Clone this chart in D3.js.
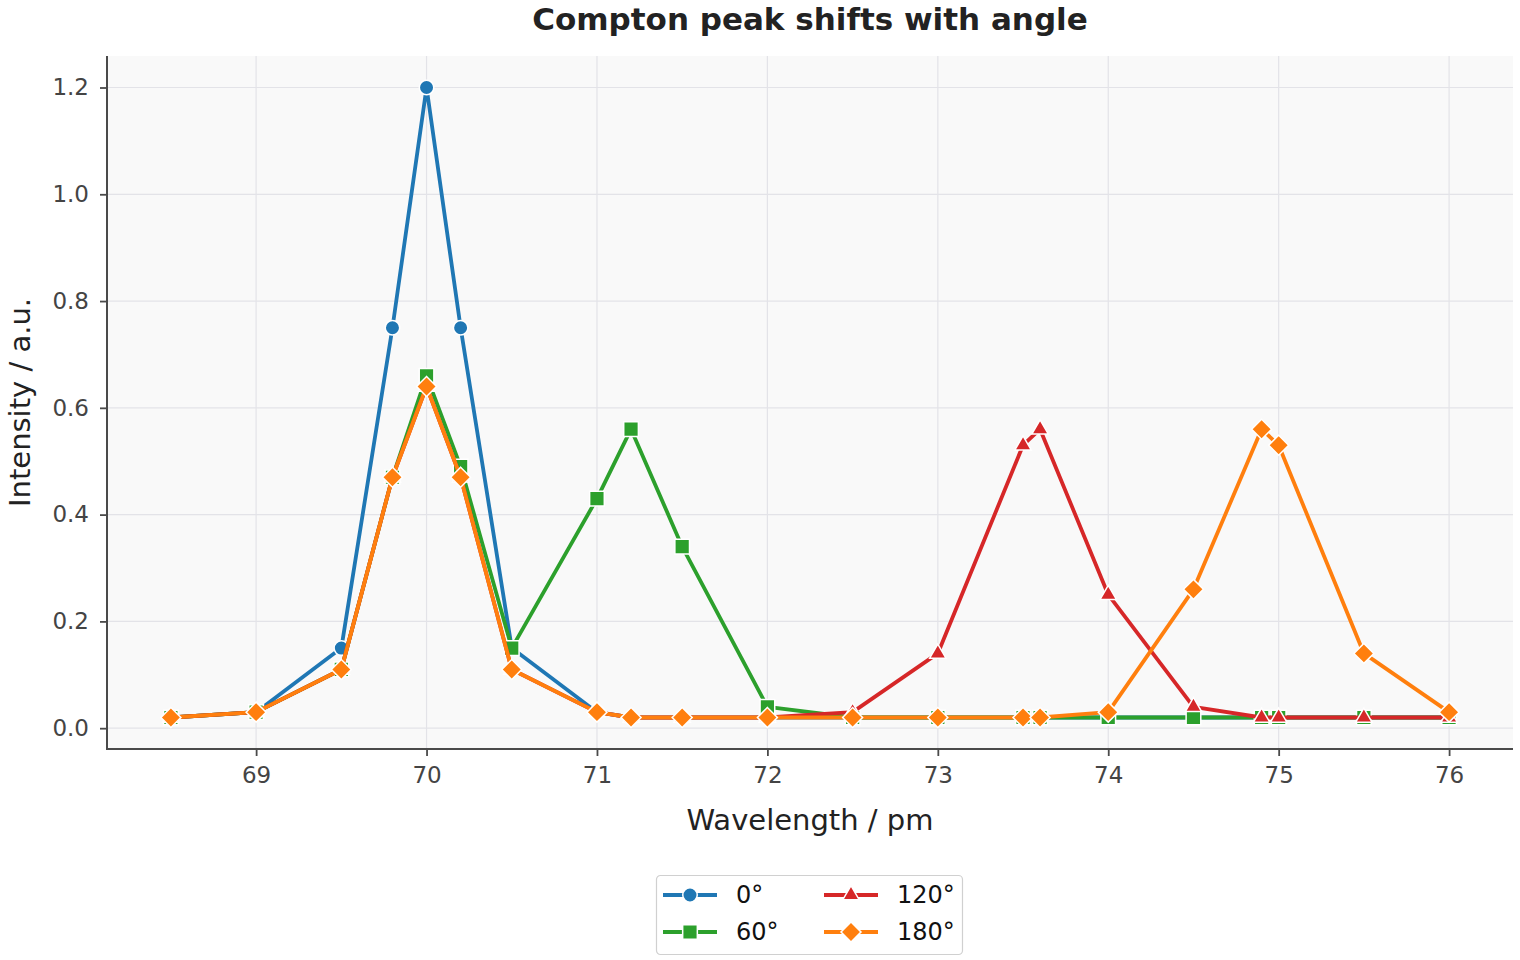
<!DOCTYPE html>
<html>
<head>
<meta charset="utf-8">
<script src="https://cdn.jsdelivr.net/npm/d3@7"></script>
<style>
  body { margin: 0; background: #fff; }
  text { font-family: "DejaVu Sans", sans-serif; }
</style>
</head>
<body>
<div id="chart"></div>
<script>
// wavelengths shared by all series (pm)
const wavelengths = [68.5, 69, 69.5, 69.8, 70, 70.2, 70.5, 71, 71.2, 71.5, 72, 72.5, 73, 73.5, 73.6, 74, 74.5, 74.9, 75, 75.5, 76];

const angle0 = [0.02, 0.03, 0.15, 0.75, 1.20, 0.75, 0.15, 0.03, 0.02, 0.02, 0.02, 0.02, 0.02, 0.02, 0.02, 0.02, 0.02, 0.02, 0.02, 0.02, 0.02];
const angle60 = [0.02, 0.03, 0.11, 0.47, 0.66, 0.49, 0.15, 0.43, 0.56, 0.34, 0.04, 0.02, 0.02, 0.02, 0.02, 0.02, 0.02, 0.02, 0.02, 0.02, 0.02];
const angle120 = [0.02, 0.03, 0.11, 0.47, 0.64, 0.47, 0.11, 0.03, 0.02, 0.02, 0.02, 0.03, 0.14, 0.53, 0.56, 0.25, 0.04, 0.02, 0.02, 0.02, 0.02];
const angle180 = [0.02, 0.03, 0.11, 0.47, 0.64, 0.47, 0.11, 0.03, 0.02, 0.02, 0.02, 0.02, 0.02, 0.02, 0.02, 0.03, 0.26, 0.56, 0.53, 0.14, 0.03];

const seriesNames = ["0°", "60°", "120°", "180°"];
const seriesValues = [angle0, angle60, angle120, angle180];
const seriesColors = ["#1f77b4", "#2ca02c", "#d62728", "#ff7f0e"];
const seriesShapes = ["circle", "square", "triangle", "diamond"];

const xTicks = [69, 70, 71, 72, 73, 74, 75, 76];
const yTicks = [0.0, 0.2, 0.4, 0.6, 0.8, 1.0, 1.2];

const width = 1520, height = 960;
const margin = {left: 107, right: 7, top: 56, bottom: 211};
const plotW = width - margin.left - margin.right;
const plotH = height - margin.top - margin.bottom;

const svg = d3.select("#chart").append("svg")
    .attr("width", width)
    .attr("height", height);

// x range 68.5..76 plus 5% margins, same for y
const xScale = d3.scaleLinear().domain([68.125, 76.375]).range([0, plotW]);
const yScale = d3.scaleLinear().domain([-0.039, 1.259]).range([plotH, 0]);

const g = svg.append("g").attr("transform", `translate(${margin.left}, ${margin.top})`);

g.append("rect")
    .attr("width", plotW)
    .attr("height", plotH)
    .attr("fill", "#f9f9f9");

// grid
g.append("g").selectAll("line").data(xTicks).join("line")
    .attr("x1", d => xScale(d)).attr("x2", d => xScale(d))
    .attr("y1", 0).attr("y2", plotH)
    .attr("stroke", "#e3e3e8").attr("stroke-width", 1.2);
g.append("g").selectAll("line").data(yTicks).join("line")
    .attr("x1", 0).attr("x2", plotW)
    .attr("y1", d => yScale(d)).attr("y2", d => yScale(d))
    .attr("stroke", "#e3e3e8").attr("stroke-width", 1.2);

function markerPath(shape) {
    if (shape == "circle") return d3.symbol(d3.symbolCircle, 165)();
    if (shape == "square") return d3.symbol(d3.symbolSquare, 215)();
    if (shape == "triangle") return d3.symbol(d3.symbolTriangle, 115)();
    return d3.symbol(d3.symbolSquare, 200)();
}

const line = d3.line()
    .x(d => xScale(d[0]))
    .y(d => yScale(d[1]));

seriesValues.forEach((vals, i) => {
    let pts = wavelengths.map((w, j) => [w, vals[j]]);
    let sg = g.append("g");
    sg.append("path")
        .datum(pts)
        .attr("d", line)
        .attr("fill", "none")
        .attr("stroke", seriesColors[i])
        .attr("stroke-width", 3.8)
        .attr("stroke-linejoin", "round");
    sg.selectAll("path.mk").data(pts).join("path")
        .attr("class", "mk")
        .attr("d", markerPath(seriesShapes[i]))
        .attr("transform", d => `translate(${xScale(d[0])}, ${yScale(d[1])})` + (seriesShapes[i] == "diamond" ? " rotate(45)" : ""))
        .attr("fill", seriesColors[i])
        .attr("stroke", "#fff")
        .attr("stroke-width", 1.5);
});

// axes
let xAxis = g.append("g").attr("transform", `translate(0, ${plotH})`)
    .call(d3.axisBottom(xScale).tickValues(xTicks).tickSize(7).tickPadding(11).tickFormat(d3.format("d")));
let yAxis = g.append("g")
    .call(d3.axisLeft(yScale).tickValues(yTicks).tickSize(7).tickPadding(11).tickFormat(d3.format(".1f")));
[xAxis, yAxis].forEach(ax => {
    ax.select(".domain").remove();
    ax.selectAll(".tick line").attr("stroke", "#4a4a4a").attr("stroke-width", 1.8);
    ax.selectAll(".tick text").attr("fill", "#444").attr("font-size", 23)
        .attr("font-family", "DejaVu Sans, sans-serif");
});
g.append("line").attr("x1", 0).attr("x2", 0).attr("y1", 0).attr("y2", plotH + 1)
    .attr("stroke", "#4a4a4a").attr("stroke-width", 2);
g.append("line").attr("x1", -1).attr("x2", plotW).attr("y1", plotH).attr("y2", plotH)
    .attr("stroke", "#4a4a4a").attr("stroke-width", 2);

// titles
svg.append("text")
    .attr("x", margin.left + plotW / 2).attr("y", 30)
    .attr("text-anchor", "middle")
    .attr("font-size", 31).attr("font-weight", "bold")
    .attr("fill", "#222")
    .text("Compton peak shifts with angle");
svg.append("text")
    .attr("x", margin.left + plotW / 2).attr("y", 830)
    .attr("text-anchor", "middle")
    .attr("font-size", 29)
    .attr("fill", "#222")
    .text("Wavelength / pm");
svg.append("text")
    .attr("transform", `translate(30, ${margin.top + plotH / 2}) rotate(-90)`)
    .attr("text-anchor", "middle")
    .attr("font-size", 29)
    .attr("fill", "#222")
    .text("Intensity / a.u.");

// legend
const legend = svg.append("g").attr("transform", "translate(656, 875)");
legend.append("rect")
    .attr("x", 0.5).attr("y", 0.5)
    .attr("width", 306).attr("height", 79)
    .attr("rx", 4)
    .attr("fill", "#fff")
    .attr("stroke", "#d0d0d0")
    .attr("stroke-width", 1.2);
const legendPos = [[7, 20], [7, 57], [168, 20], [168, 57]];
seriesNames.forEach((name, i) => {
    let item = legend.append("g").attr("transform", `translate(${legendPos[i][0]}, ${legendPos[i][1]})`);
    item.append("line").attr("x1", 0).attr("x2", 54)
        .attr("stroke", seriesColors[i]).attr("stroke-width", 3.8);
    item.append("path")
        .attr("d", markerPath(seriesShapes[i]))
        .attr("transform", "translate(27, 0)" + (seriesShapes[i] == "diamond" ? " rotate(45)" : ""))
        .attr("fill", seriesColors[i])
        .attr("stroke", "#fff")
        .attr("stroke-width", 1.5);
    item.append("text")
        .attr("x", 73).attr("y", 0)
        .attr("dy", "0.35em")
        .attr("font-size", 24)
        .attr("fill", "#111")
        .text(name);
});
</script>
</body>
</html>
